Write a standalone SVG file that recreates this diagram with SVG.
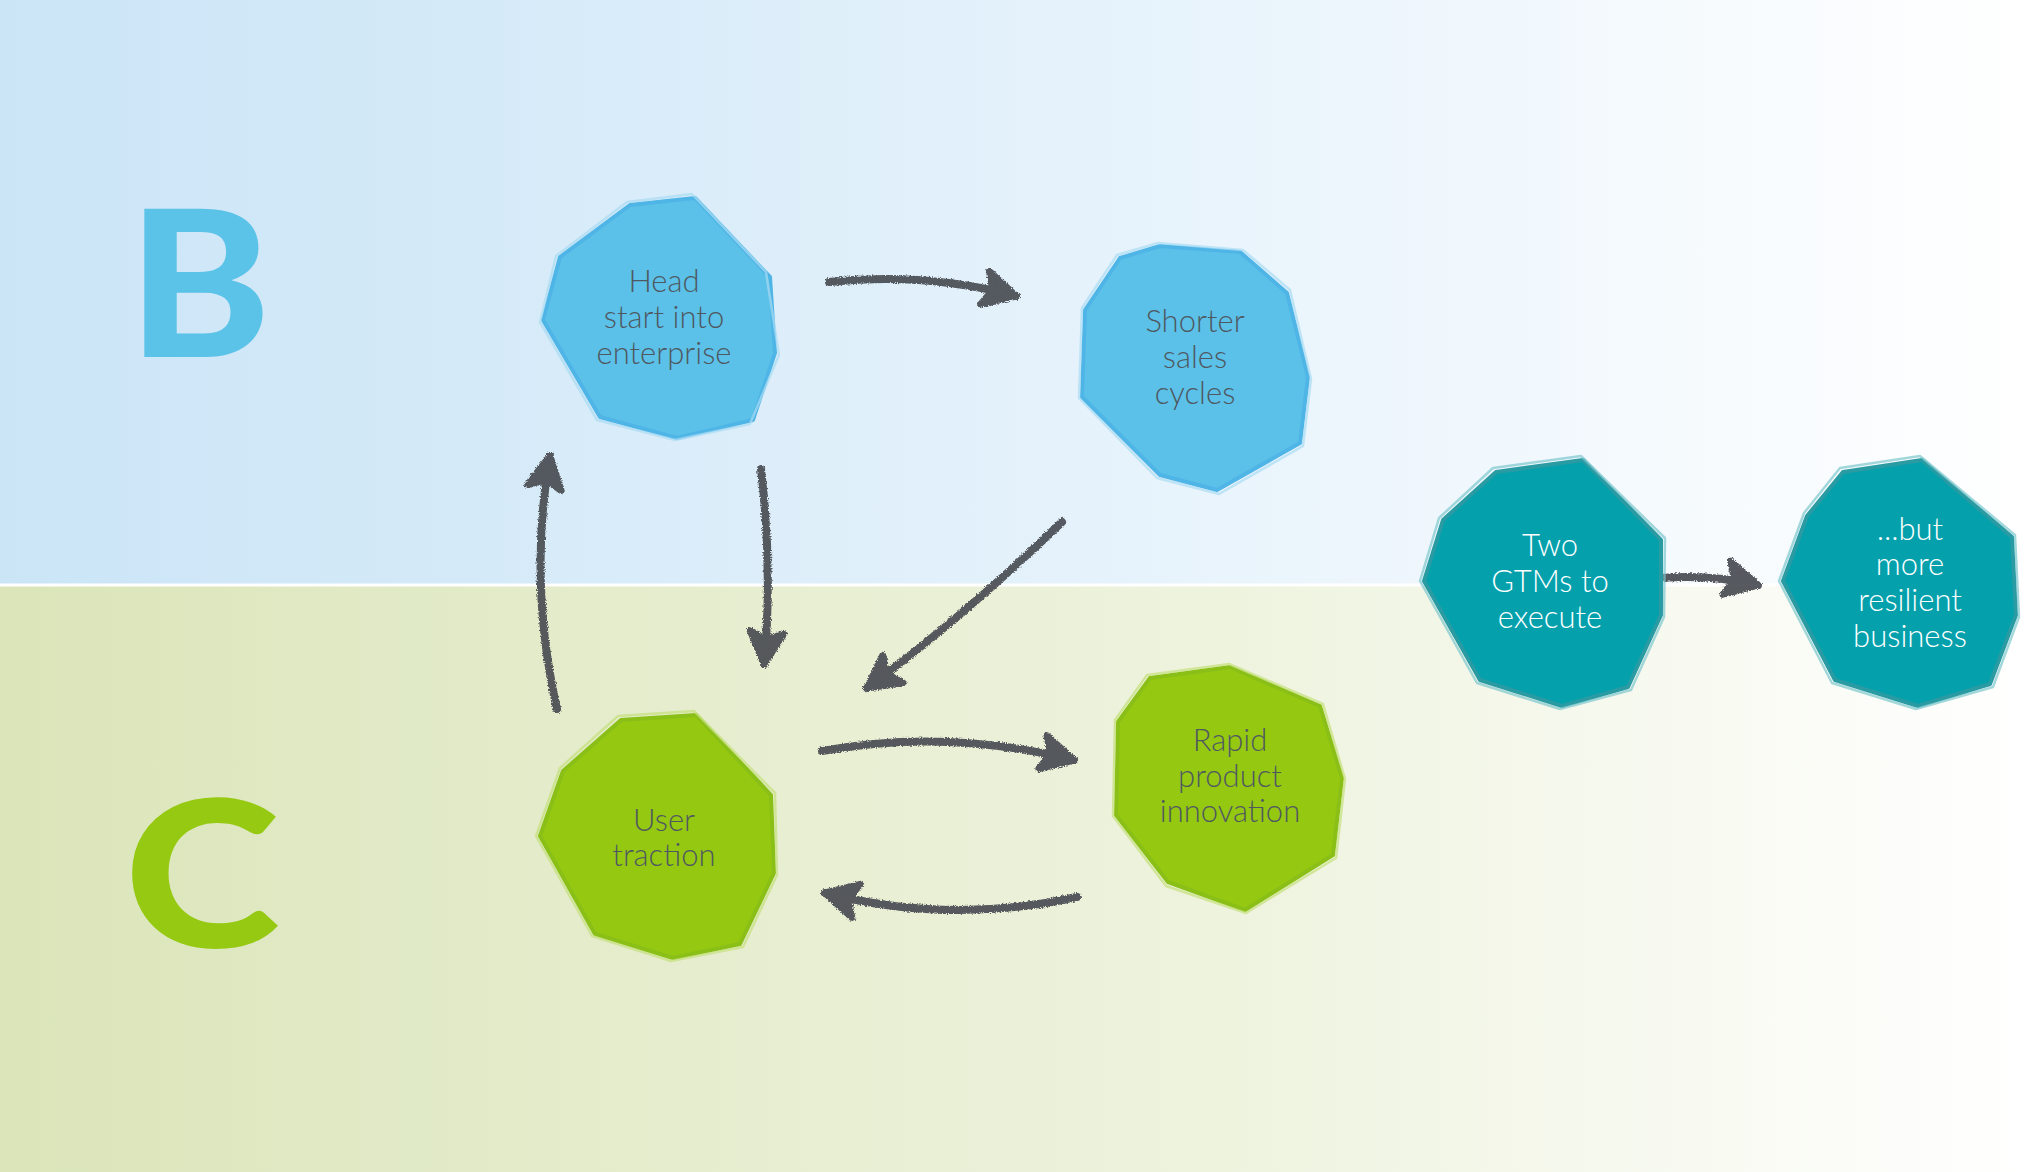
<svg xmlns="http://www.w3.org/2000/svg" width="2030" height="1172" viewBox="0 0 2030 1172">
<defs>
<linearGradient id="bgTop" x1="0" y1="0" x2="1" y2="0">
<stop offset="0" stop-color="#cbe5f7"/><stop offset="0.2" stop-color="#d3e9f8"/><stop offset="0.6" stop-color="#e9f4fc"/><stop offset="1" stop-color="#ffffff"/>
</linearGradient>
<linearGradient id="bgBot" x1="0" y1="0" x2="1" y2="0">
<stop offset="0" stop-color="#dbe5b9"/><stop offset="0.2" stop-color="#e1eac6"/><stop offset="0.6" stop-color="#eef3de"/><stop offset="1" stop-color="#ffffff"/>
</linearGradient>
<filter id="chalk" x="-10%" y="-10%" width="120%" height="120%">
<feTurbulence type="fractalNoise" baseFrequency="0.8" numOctaves="2" seed="3" result="n"/>
<feDisplacementMap in="SourceGraphic" in2="n" scale="4" xChannelSelector="R" yChannelSelector="G"/>
</filter>
<marker id="head" markerUnits="userSpaceOnUse" markerWidth="60" markerHeight="60" viewBox="-40 -30 50 60" refX="0" refY="0" orient="auto">
<path d="M-32,-17 L0,0 L-32,17 L-24,0 Z" fill="#4a4d52" stroke="#4a4d52" stroke-width="7" stroke-linecap="round" stroke-linejoin="round"/>
</marker>
<style>
.lbl{font-family:Lato,"Open Sans","Liberation Sans",sans-serif;font-size:31px;font-weight:300;text-anchor:middle;fill:#4f5861}
.lbl.w{fill:#ffffff}
.blue{fill:#5bc1e8;stroke:#4fb5e6;stroke-width:4;stroke-linejoin:round}
.green{fill:#95c811;stroke:#8abf18;stroke-width:4;stroke-linejoin:round}
.teal{fill:#04a1ad;stroke:#2a9aa3;stroke-width:4;stroke-linejoin:round}
.sk{fill:none;stroke-width:2.5;opacity:0.7;stroke-linejoin:round}
.arr{fill:none;stroke:#4a4d52;stroke-width:8;stroke-linecap:round;marker-end:url(#head)}
.big{font-family:Lato,Inter,"Liberation Sans",sans-serif;font-weight:900}
</style>
</defs>

<rect x="0" y="0" width="2030" height="585" fill="url(#bgTop)"/>
<rect x="0" y="585" width="2030" height="587" fill="url(#bgBot)"/>
<line x1="0" y1="585" x2="2030" y2="585" stroke="#ffffff" stroke-width="3"/>

<text class="big" x="128" y="357" font-size="205" fill="#5bc3e8" textLength="143" lengthAdjust="spacingAndGlyphs">B</text>
<text class="big" x="124" y="947" font-size="204" fill="#96c912" textLength="156" lengthAdjust="spacingAndGlyphs">C</text>

<g id="connectors" filter="url(#chalk)" opacity="0.92">
<path class="arr" d="M829,282 Q925,272 1016,296"/>
<path class="arr" d="M761,469 Q773,570 764,664"/>
<path class="arr" d="M557,709 Q528,580 550,456"/>
<path class="arr" d="M1062,522 Q960,620 867,688"/>
<path class="arr" d="M822,751 Q945,728 1074,760"/>
<path class="arr" d="M1077,897 Q951,925 825,893"/>
<path class="arr" d="M1661,578 Q1710,574 1758,585" stroke-width="7"/>
</g>

<g id="node-head">
<polygon class="blue" points="695,198 770,277 775,353 753,420 677,438 600,417 543,320 560,257 630,205"/>
<polygon class="sk" stroke="#a9dcf4" points="692,194 766,272 779,355 750,424 675,440 597,420 540,322 556,256 627,202"/>
<text class="lbl" x="664" y="292">Head</text>
<text class="lbl" x="664" y="328">start into</text>
<text class="lbl" x="664" y="364">enterprise</text>
</g>

<g id="node-shorter">
<polygon class="blue" points="1120,258 1160,246 1240,252 1287,293 1308,377 1300,443 1217,490 1160,475 1082,397 1085,310"/>
<polygon class="sk" stroke="#a9dcf4" points="1117,255 1158,243 1243,250 1290,290 1311,379 1303,446 1219,494 1157,478 1079,398 1082,308"/>
<text class="lbl" x="1195" y="332">Shorter</text>
<text class="lbl" x="1195" y="368">sales</text>
<text class="lbl" x="1195" y="404">cycles</text>
</g>

<g id="node-user">
<polygon class="green" points="621,720 696,715 771,795 774,873 740,944 673,958 595,934 540,836 563,771"/>
<polygon class="sk" stroke="#c4e07a" points="618,716 694,711 775,793 777,875 743,947 671,961 592,936 536,836 560,768"/>
<text class="lbl" x="664" y="831">User</text>
<text class="lbl" x="664" y="866">traction</text>
</g>

<g id="node-rapid">
<polygon class="green" points="1150,678 1230,667 1320,706 1342,778 1333,855 1245,910 1168,882 1116,815 1118,722"/>
<polygon class="sk" stroke="#c4e07a" points="1147,675 1229,664 1323,704 1345,779 1336,858 1246,913 1166,886 1113,816 1115,720"/>
<text class="lbl" x="1230" y="751">Rapid</text>
<text class="lbl" x="1230" y="787">product</text>
<text class="lbl" x="1230" y="822">innovation</text>
</g>

<g id="node-two">
<polygon class="teal" points="1496,472 1583,460 1661,540 1661,615 1628,687 1562,706 1480,680 1424,581 1443,520"/>
<polygon class="sk" stroke="#7cc7cd" points="1493,468 1581,456 1665,538 1664,617 1631,690 1560,709 1477,683 1420,581 1439,518"/>
<text class="lbl w" x="1550" y="556">Two</text>
<text class="lbl w" x="1550" y="592">GTMs to</text>
<text class="lbl w" x="1550" y="628">execute</text>
</g>

<g id="node-but">
<polygon class="teal" points="1807,516 1843,472 1922,460 2012,537 2016,615 1990,684 1918,706 1835,680 1783,581"/>
<polygon class="sk" stroke="#7cc7cd" points="1804,513 1840,468 1920,456 2015,535 2019,617 1993,687 1916,709 1832,683 1779,581"/>
<text class="lbl w" x="1910" y="540">...but</text>
<text class="lbl w" x="1910" y="575">more</text>
<text class="lbl w" x="1910" y="611">resilient</text>
<text class="lbl w" x="1910" y="647">business</text>
</g>
</svg>
